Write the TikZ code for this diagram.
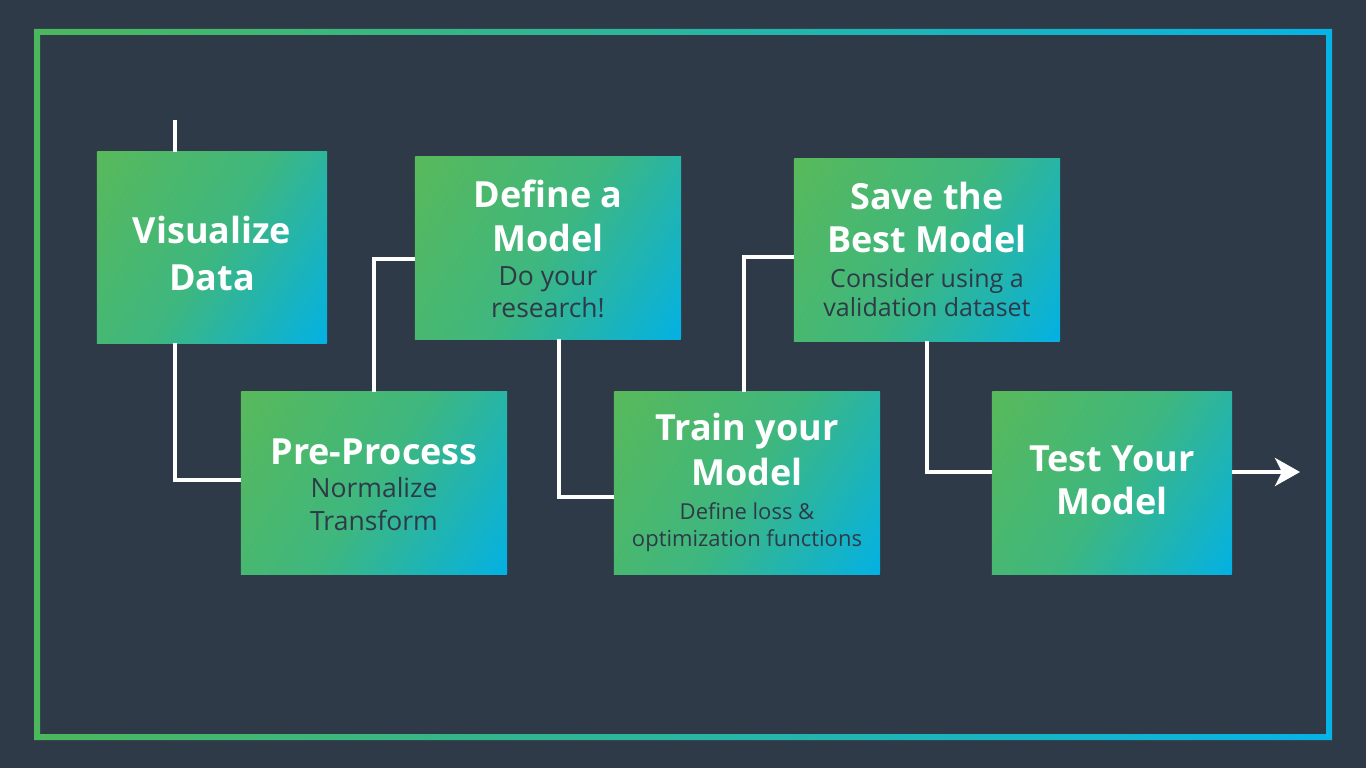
\documentclass[tikz,border=0pt]{standalone}
\usepackage{fontspec}
\setmainfont{Open Sans}
\usetikzlibrary{arrows.meta,calc}
\definecolor{bg}{HTML}{2E3A48}
\definecolor{gA}{HTML}{58B95A}
\definecolor{gB}{HTML}{3EB77F}
\definecolor{gC}{HTML}{03B1E4}
\definecolor{bordG}{HTML}{4CB85C}
\definecolor{bordB}{HTML}{07B3E5}
\pgfdeclarehorizontalshading{boxgrad}{100bp}{color(0bp)=(gA); color(25bp)=(gA); color(50bp)=(gB); color(75bp)=(gC); color(100bp)=(gC)}
\tikzset{
  stepbox/.style={rectangle, draw=none, inner sep=0pt},
  ttl/.style={text=white, font=\fontsize{36}{40}\selectfont\bfseries, anchor=base, inner sep=0pt},
  subA/.style={text=bg, font=\fontsize{26.5}{30}\selectfont, anchor=base, inner sep=0pt},
  subB/.style={text=bg, font=\fontsize{25}{28}\selectfont, anchor=base, inner sep=0pt},
  subC/.style={text=bg, font=\fontsize{22}{26}\selectfont, anchor=base, inner sep=0pt},
  conn/.style={draw=white, line width=4pt},
}
% name, cx, cy, width, height
\newcommand\skbox[5]{%
  \node[stepbox, minimum width=#4pt, minimum height=#5pt] (#1) at (#2,#3) {};
  \pgfmathsetmacro\skE{(#4*cos(33)+#5*sin(33))/2}%
  \begin{scope}
    \clip (#1.south west) rectangle (#1.north east);
    \begin{scope}[transform canvas={shift={(#2pt,-#3pt)}, rotate=-33}]
      \shade[shading=boxgrad] (-\skE,-300) rectangle (\skE,300);
    \end{scope}
  \end{scope}
}
\begin{document}
\begin{tikzpicture}[x=1pt,y=-1pt]
\fill[bg] (0,0) rectangle (1366,768);
\useasboundingbox (0,0) rectangle (1366,768);
% frame
\shade[left color=bordG, right color=bordB, even odd rule]
  (34,29) rectangle (1332,740) (40,35) rectangle (1326,734);
% boxes
\skbox{v}{212}{247.5}{230}{191}
\skbox{p}{374}{483}{266}{182}
\skbox{d}{548}{248}{266}{182}
\skbox{t}{747}{483}{266}{182}
\skbox{s}{927}{250}{266}{182}
\skbox{x}{1112}{483}{240}{182}
% texts
\node[ttl] (v1) at (212,243) {Visualize};
\node[ttl] (v2) at (212,290) {Data};
\node[ttl] (p1) at (374,464) {Pre-Process};
\node[subA] (p2) at (374,497) {Normalize};
\node[subA] (p3) at (374,530) {Transform};
\node[ttl] (d1) at (548,207) {Define a};
\node[ttl] (d2) at (548,251) {Model};
\node[subA] (d3) at (548,285) {Do your};
\node[subA] (d4) at (548,317) {research!};
\node[ttl] (t1) at (747,440) {Train your};
\node[ttl] (t2) at (747,485) {Model};
\node[subC] (t3) at (747,519) {Define loss \&};
\node[subC] (t4) at (747,546) {optimization functions};
\node[ttl] (s1) at (927,209) {Save the};
\node[ttl] (s2) at (927,252) {Best Model};
\node[subB] (s3) at (927,287) {Consider using a};
\node[subB] (s4) at (927,316) {validation dataset};
\node[ttl] (x1) at (1112,471) {Test Your};
\node[ttl] (x2) at (1112,514) {Model};
% connectors
\coordinate (start) at (175,120);
\coordinate (arrowend) at (1300,472);
\draw[conn] (start) -- ([xshift=-37pt]v.north);
\draw[conn] ([xshift=-37pt]v.south) |- ([yshift=3pt]p.west);
\draw[conn] (p.north) |- ([yshift=-11pt]d.west);
\draw[conn] ([xshift=11pt]d.south) |- ([yshift=-14pt]t.west);
\draw[conn] ([xshift=-3pt]t.north) |- ([yshift=-7pt]s.west);
\draw[conn] (s.south) |- ([yshift=11pt]x.west);
\draw[conn, -{Stealth[length=25pt, width=28pt, inset=7pt]}] ([yshift=11pt]x.east) -- (arrowend);
\end{tikzpicture}
\end{document}
